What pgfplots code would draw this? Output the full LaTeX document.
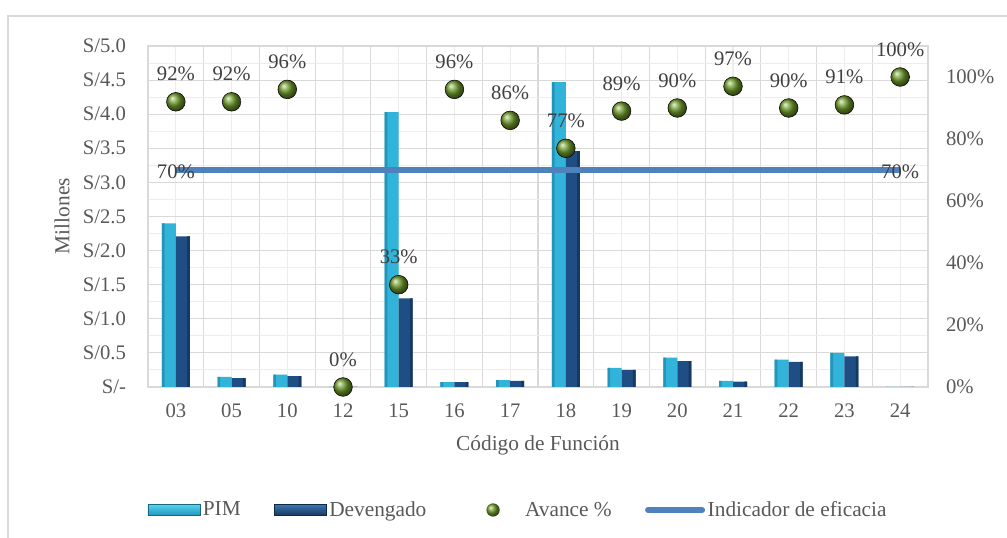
\documentclass[border=0pt]{standalone}
\usepackage{pgfplots}
\pgfplotsset{compat=1.18}
\usepackage{pgfplotstable}
\usepackage{fontspec}
\setmainfont{Liberation Serif}
\definecolor{pimM}{HTML}{31B3DA}
\definecolor{pimD}{HTML}{2495B9}
\definecolor{pimL}{HTML}{55D3F0}
\definecolor{devM}{HTML}{1F4E84}
\definecolor{devD}{HTML}{153961}
\definecolor{devL}{HTML}{3E74B0}
\definecolor{ballC}{HTML}{6E9A2A}
\definecolor{lineC}{HTML}{4F81BD}
\definecolor{gridMaj}{HTML}{D9D9D9}
\definecolor{gridMin}{HTML}{EDEDED}
\definecolor{txt}{HTML}{595959}
\definecolor{lab}{HTML}{404040}
\newcommand\chfont{\fontsize{15.5}{18.6}\selectfont}
\newcommand\lgfont{\fontsize{16}{19.2}\selectfont}

\pgfplotstableread{
x pim dev av
0 2.40 2.21 92
1 0.15 0.13 92
2 0.18 0.16 96
3 0.00 0.00 0
4 4.03 1.30 33
5 0.07 0.07 96
6 0.10 0.09 86
7 4.47 3.46 77
8 0.28 0.25 89
9 0.43 0.38 90
10 0.09 0.08 97
11 0.40 0.37 90
12 0.50 0.45 91
13 0.00 0.00 100
}\data

\begin{document}
\begin{tikzpicture}
\path[use as bounding box] (0,0) rectangle (755.25pt,403.5pt);
\draw[gridMaj, line width=0.8pt] (6pt,-2pt) -- (6pt,391.5pt) -- (758pt,391.5pt);

\begin{axis}[
  at={(111pt,113.25pt)}, anchor=south west,
  scale only axis, width=585pt, height=255.75pt,
  xmin=-0.5, xmax=13.5, ymin=0, ymax=5,
  ybar=0pt, bar width=10.5pt,
  xtick={-0.5,0.5,1.5,2.5,3.5,4.5,5.5,6.5,7.5,8.5,9.5,10.5,11.5,12.5,13.5}, xticklabels={},
  minor xtick={0,...,13},
  extra x ticks={0,...,13},
  extra x tick labels={03,05,10,12,15,16,17,18,19,20,21,22,23,24},
  extra x tick style={grid=none},
  ytick={0,0.5,...,5},
  yticklabels={S/-,S/0.5,S/1.0,S/1.5,S/2.0,S/2.5,S/3.0,S/3.5,S/4.0,S/4.5,S/5.0},
  minor y tick num=1,
  major tick length=0pt, minor tick length=0pt,
  axis line style={draw=gridMaj, line width=0.8pt},
  xmajorgrids, xminorgrids, ymajorgrids, yminorgrids,
  major grid style={draw=gridMaj, line width=0.8pt},
  minor grid style={draw=gridMin, line width=0.8pt},
  tick label style={font=\chfont, text=txt},
  xticklabel style={yshift=-9pt},
  yticklabel style={xshift=-13pt},
  label style={font=\lgfont, text=txt},
  xlabel={Código de Función},
  xlabel style={at={(axis description cs:0.5,-0.170)}, anchor=center},
  ylabel={Millones},
  ylabel style={at={(axis description cs:-0.110,0.501)}, anchor=center},
]
% PIM bars: body + darker left edge
\addplot[bar shift=-5.25pt, draw=none, fill=pimM] table[x=x,y=pim] {\data};
\addplot[bar shift=-9.5pt, bar width=2pt, draw=none, fill=pimD] table[x=x,y=pim] {\data};
% Devengado bars: body + darker right edge
\addplot[bar shift=5.25pt, draw=none, fill=devM] table[x=x,y=dev] {\data};
\addplot[bar shift=9.5pt, bar width=2pt, draw=none, fill=devD] table[x=x,y=dev] {\data};
\end{axis}

\begin{axis}[
  at={(111pt,113.25pt)}, anchor=south west,
  scale only axis, width=585pt, height=255.75pt,
  xmin=-0.5, xmax=13.5, ymin=0, ymax=110,
  hide x axis,
  ytick pos=right, yticklabel pos=right,
  axis line style={draw=none},
  ytick={0,20,...,100},
  yticklabels={0\%,20\%,40\%,60\%,80\%,100\%},
  major tick length=0pt,
  tick label style={font=\chfont, text=txt},
  yticklabel style={xshift=10pt},
  /pgf/number format/assume math mode=true,
  legend columns=4,
  legend style={at={(axis description cs:-0.006,-0.3607)}, anchor=west,
    draw=none, fill=none, font=\lgfont, text=txt,
    /tikz/every even column/.append style={column sep=23pt}},
]
\addlegendimage{legend image code/.code={
  \path[top color=pimL, bottom color=pimD, draw=pimD!70!black] (0pt,-4pt) rectangle (39pt,4pt);}}
\addlegendentry{PIM}
\addlegendimage{legend image code/.code={
  \path[top color=devL, bottom color=devD, draw=devD!70!black] (0pt,-4pt) rectangle (39pt,4pt);}}
\addlegendentry{Devengado}

\addplot[only marks, mark=ball, mark size=7pt, mark options={ball color=ballC},
  nodes near coords={\pgfmathprintnumber[fixed,precision=0]{\pgfplotspointmeta}\%},
  every node near coord/.append style={font=\chfont, text=lab, anchor=south, yshift=12pt},
  point meta=explicit,
  legend image code/.code={
    \path[draw=none, fill=none] (0pt,-5pt) rectangle (47pt,5pt);
    \shade[ball color=ballC, draw=none] (25pt,0pt) circle (5pt);}
] table[x=x,y=av,meta=av] {\data};
\addlegendentry{Avance \%}

\addplot[lineC, line width=4.5pt, mark=none,
  nodes near coords={70\%},
  every node near coord/.append style={font=\chfont, text=lab, anchor=center, yshift=-1pt},
  legend image code/.code={
    \draw[lineC, line width=4.5pt, line cap=round] (1.5pt,0pt) -- (42pt,0pt);}
] coordinates {(0,70) (13,70)};
\addlegendentry{Indicador de eficacia}
\end{axis}
\end{tikzpicture}
\end{document}
